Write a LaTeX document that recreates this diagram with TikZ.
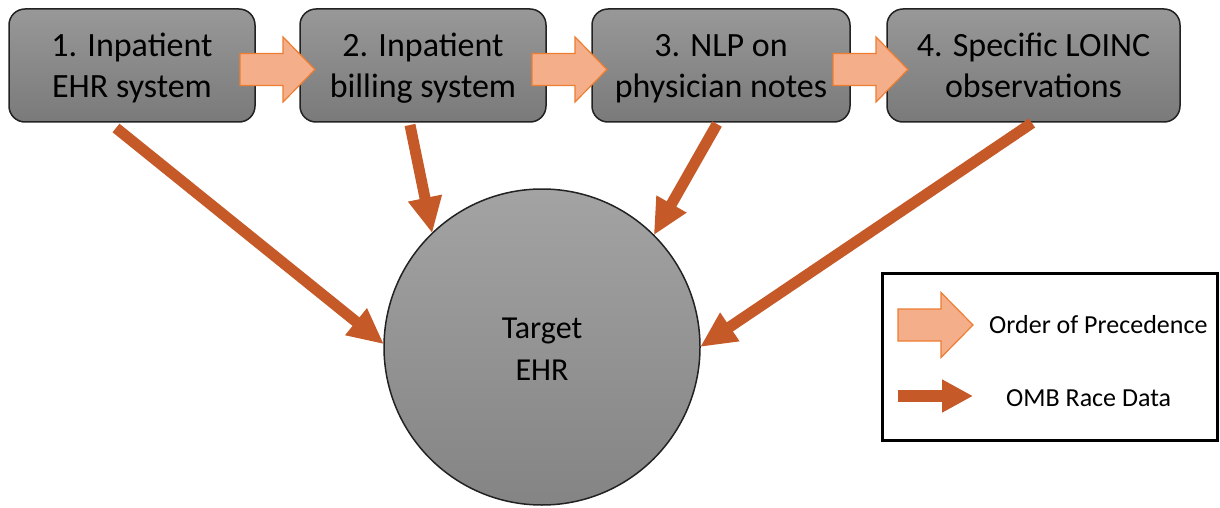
\documentclass[tikz,border=0pt]{standalone}
\usepackage{fontspec}
\setmainfont{Carlito}
\usetikzlibrary{arrows.meta,calc}
\definecolor{raceor}{HTML}{C55A28}
\definecolor{precfill}{HTML}{F4AE8A}
\definecolor{precline}{HTML}{ED7D31}
\definecolor{boxtop}{HTML}{989898}
\definecolor{boxbot}{HTML}{7A7A7A}
\definecolor{circtop}{HTML}{A3A3A3}
\definecolor{circbot}{HTML}{848484}
\definecolor{edge}{HTML}{222222}
\begin{document}
\begin{tikzpicture}[x=1pt,y=-1pt,
  stage/.style={draw=edge,line width=1.5pt,rounded corners=16pt,
    top color=boxtop,bottom color=boxbot,minimum height=113pt,
    inner sep=0pt,outer sep=0pt},
  stagetext/.style={align=center,font=\fontsize{34}{41}\selectfont,inner sep=0pt},
  target/.style={circle,draw=edge,line width=1.5pt,top color=circtop,
    bottom color=circbot,minimum size=316pt,inner sep=0pt,outer sep=0pt},
  targettext/.style={align=center,font=\fontsize{32}{42}\selectfont,inner sep=0pt},
  race/.style={draw=raceor,line width=11pt,-{Triangle[length=36pt,width=32pt]}},
  legendbox/.style={draw=black,line width=3pt,inner sep=0pt},
  legendtext/.style={font=\fontsize{26}{31}\selectfont,inner sep=0pt,anchor=base west},
  pics/prec/.style={code={
    \draw[draw=precline,fill=precfill,line width=1.2pt,line join=miter]
      (0,-16) -- (43,-16) -- (43,-32.5) -- (75,0) -- (43,32.5) -- (43,16)
      -- (0,16) -- cycle;}},
]
\useasboundingbox (0,0) rectangle (1220,508);
\fill[white] (0,0) rectangle (1220,508);

% target record
\node[target] (t) at (542,347) {};
\node[targettext] (tt) at ([yshift=-3.6pt]t.center) {\strut Target\\\strut EHR};

% data sources
\node[stage,minimum width=246pt] (b1) at (132,65.5) {};
\node[stage,minimum width=246pt] (b2) at (423,65.5) {};
\node[stage,minimum width=258pt] (b3) at (721,65.5) {};
\node[stage,minimum width=293pt] (b4) at (1033.5,65.5) {};
\node[stagetext] (b1t) at ([yshift=-3pt]b1.center) {\strut 1. Inpatient\\\strut EHR system};
\node[stagetext] (b2t) at ([yshift=-3pt]b2.center) {\strut 2. Inpatient\\\strut billing system};
\node[stagetext] (b3t) at ([yshift=-3pt]b3.center) {\strut 3. NLP on\\\strut physician notes};
\node[stagetext] (b4t) at ([yshift=-3pt]b4.center) {\strut 4. Specific LOINC\\\strut observations};

% race data flows into the target record
\coordinate (r1) at ($(b1.south)+(-16,6)$);
\coordinate (r2) at ($(b2.south)+(-13,3)$);
\coordinate (r3) at ($(b3.south)+(-4,2)$);
\coordinate (r4) at ($(b4.south)+(-1.5,1)$);
\draw[race] (r1) -- (t.179.3);
\draw[race] (r2) -- (t.134.5);
\draw[race] (r3) -- (t.45.8);
\draw[race] (r4) -- (t.0);

% order of precedence between sources
\pic at ($(b1.east)+(-15,4)$) {prec};
\pic at ($(b2.east)+(-14,4)$) {prec};
\pic at ($(b3.east)+(-17,4)$) {prec};

% legend
\node[legendbox,minimum width=335pt,minimum height=167pt] (leg) at (1049.5,356.5) {};
\pic at (898,325) {prec};
\coordinate (lr0) at (898,396);
\coordinate (lr1) at (973,396);
\draw[race,line width=12pt,-{Triangle[length=31pt,width=31pt]}] (lr0) -- (lr1);
\node[legendtext] (l1) at (989,333) {Order of Precedence};
\node[legendtext] (l2) at (1006,406) {OMB Race Data};
\end{tikzpicture}
\end{document}
